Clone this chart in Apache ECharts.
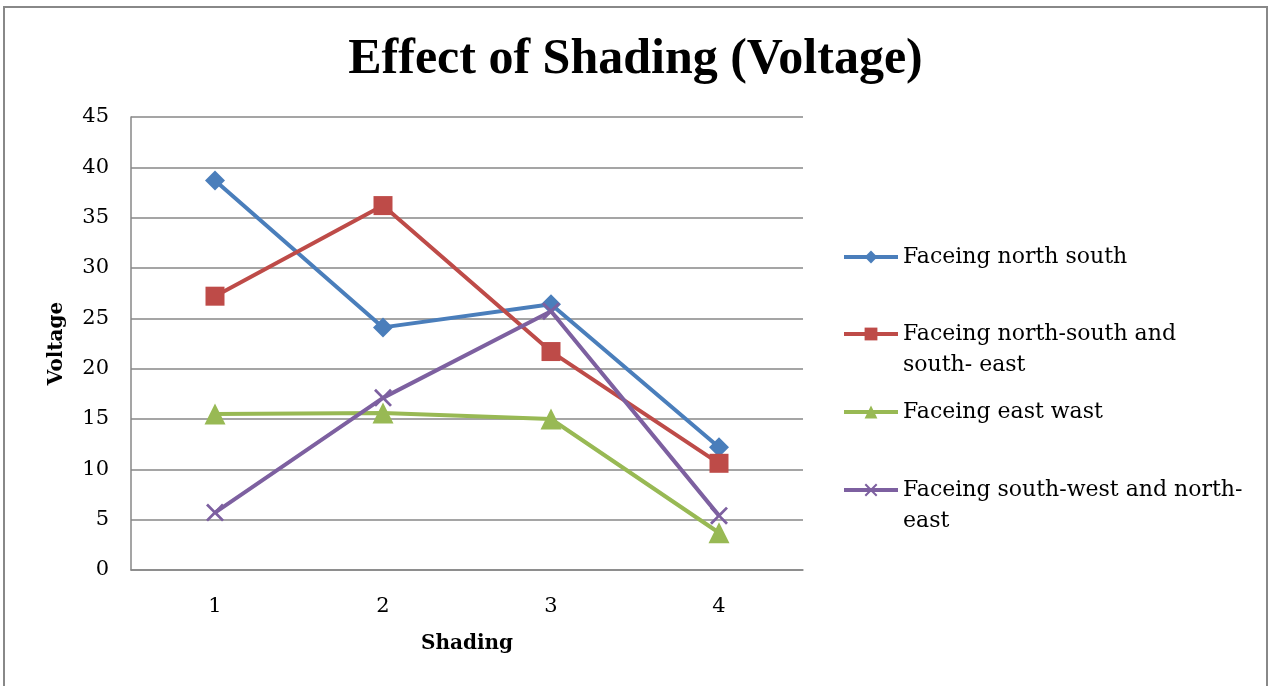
<!DOCTYPE html>
<html><head><meta charset="utf-8">
<script src="https://cdn.jsdelivr.net/npm/echarts@6/dist/echarts.min.js"></script>
<style>html,body{margin:0;padding:0;background:#fff}#c{width:1271px;height:686px}</style>
</head><body><div id="c"></div>
<script>
var categories = ['1', '2', '3', '4'];
var seriesNames = ['Faceing north south', 'Faceing north-south and south- east', 'Faceing east wast', 'Faceing south-west and north-east'];
var northSouth = [38.7, 24.1, 26.4, 12.2];
var northSouthSouthEast = [27.2, 36.2, 21.7, 10.6];
var eastWest = [15.5, 15.6, 15.0, 3.7];
var southWestNorthEast = [5.7, 17.1, 25.7, 5.4];
var legendLines = [['Faceing north south'], ['Faceing north-south and', 'south- east'], ['Faceing east wast'], ['Faceing south-west and north-', 'east']];

var FONT = '"DejaVu Serif", "Liberation Serif", serif';
var TITLE_FONT = '"Liberation Serif", serif';
var colors = ['#4A7EBB', '#BE4B48', '#98B954', '#7D60A0'];
var xPath = 'path://M0,1.1 L1.1,0 L5,3.9 L8.9,0 L10,1.1 L6.1,5 L10,8.9 L8.9,10 L5,6.1 L1.1,10 L0,8.9 L3.9,5 Z';
var symbols = ['diamond', 'rect', 'triangle', xPath];
var symbolSizes = [20, 19, 21, 18];
var data = [northSouth, northSouthSouthEast, eastWest, southWestNorthEast];
var legendTops = [257, 334, 412, 490];
var LH = 31;

var chart = echarts.init(document.getElementById('c'));
var series = seriesNames.map(function (n, i) {
  return {
    name: n, type: 'line', data: data[i], symbol: symbols[i], symbolSize: symbolSizes[i],
    showAllSymbol: true,
    lineStyle: { color: colors[i], width: 4 },
    itemStyle: { color: colors[i] },
    emphasis: { disabled: true }, animation: false, z: 3 + i
  };
});
var legends = seriesNames.map(function (n, i) {
  var lines = legendLines[i];
  var multi = lines.length > 1;
  return {
    data: [n],
    left: 842, top: legendTops[i] - (multi ? 1.5 * LH : 0.5 * LH),
    orient: 'vertical', itemWidth: 54, itemHeight: 16, itemGap: 0, padding: 0,
    selectedMode: false,
    lineStyle: { width: 4 },
    formatter: function () { return (multi ? '\n' : '') + lines.join('\n'); },
    textStyle: { fontFamily: FONT, fontSize: 22, color: '#000', lineHeight: LH }
  };
});
chart.setOption({
  animation: false,
  title: { text: 'Effect of Shading (Voltage)', left: 'center', top: 30, textStyle: { fontFamily: TITLE_FONT, fontWeight: 'bold', fontSize: 50, color: '#000' } },
  grid: { left: 131, right: 468, top: 117, bottom: 116, containLabel: false },
  legend: legends,
  xAxis: {
    type: 'category', data: categories, boundaryGap: true,
    name: 'Shading', nameLocation: 'middle', nameGap: 64,
    nameTextStyle: { fontFamily: FONT, fontWeight: 'bold', fontSize: 20, color: '#000' },
    axisLine: { lineStyle: { color: '#878787', width: 1.5 } },
    axisTick: { show: false },
    axisLabel: { fontFamily: FONT, fontSize: 21, color: '#000', margin: 26 }
  },
  yAxis: {
    type: 'value', min: 0, max: 45, interval: 5,
    name: 'Voltage', nameLocation: 'middle', nameGap: 64, nameRotate: 90,
    nameTextStyle: { fontFamily: FONT, fontWeight: 'bold', fontSize: 20, color: '#000' },
    axisLine: { show: true, lineStyle: { color: '#878787', width: 1.5 } },
    axisTick: { show: false },
    splitLine: { lineStyle: { color: '#878787', width: 1.5 } },
    axisLabel: { fontFamily: FONT, fontSize: 21, color: '#000', margin: 22 }
  },
  graphic: [{ type: 'rect', shape: { x: 4, y: 7, width: 1263, height: 720 }, style: { fill: 'none', stroke: '#888', lineWidth: 2 }, silent: true }],
  series: series
});
</script></body></html>
